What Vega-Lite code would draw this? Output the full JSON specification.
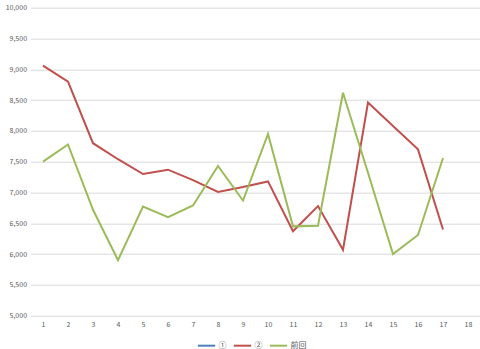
{
  "$schema": "https://vega.github.io/schema/vega-lite/v6.json",
  "width": 450,
  "height": 308,
  "autosize": {"type": "none"},
  "padding": {"left": 30.5, "top": 7.7, "right": 0, "bottom": 33},
  "background": "white",
  "config": {
    "view": {"stroke": null},
    "font": "Noto Sans CJK JP",
    "axis": {"labelFont": "Noto Sans CJK JP", "labelColor": "#595959", "labelFontSize": 7, "domain": false, "ticks": false, "title": null}
  },
  "data": {
    "values": [
      {"x": 1, "s": "②", "v": 9060}, {"x": 2, "s": "②", "v": 8800}, {"x": 3, "s": "②", "v": 7800},
      {"x": 4, "s": "②", "v": 7540}, {"x": 5, "s": "②", "v": 7300}, {"x": 6, "s": "②", "v": 7370},
      {"x": 7, "s": "②", "v": 7200}, {"x": 8, "s": "②", "v": 7010}, {"x": 9, "s": "②", "v": 7090},
      {"x": 10, "s": "②", "v": 7180}, {"x": 11, "s": "②", "v": 6370}, {"x": 12, "s": "②", "v": 6780},
      {"x": 13, "s": "②", "v": 6070}, {"x": 14, "s": "②", "v": 8460}, {"x": 15, "s": "②", "v": 8080},
      {"x": 16, "s": "②", "v": 7700}, {"x": 17, "s": "②", "v": 6400},
      {"x": 1, "s": "前回", "v": 7500}, {"x": 2, "s": "前回", "v": 7780}, {"x": 3, "s": "前回", "v": 6720},
      {"x": 4, "s": "前回", "v": 5900}, {"x": 5, "s": "前回", "v": 6770}, {"x": 6, "s": "前回", "v": 6600},
      {"x": 7, "s": "前回", "v": 6790}, {"x": 8, "s": "前回", "v": 7430}, {"x": 9, "s": "前回", "v": 6870},
      {"x": 10, "s": "前回", "v": 7950}, {"x": 11, "s": "前回", "v": 6450}, {"x": 12, "s": "前回", "v": 6460},
      {"x": 13, "s": "前回", "v": 8620}, {"x": 14, "s": "前回", "v": 7320}, {"x": 15, "s": "前回", "v": 6000},
      {"x": 16, "s": "前回", "v": 6310}, {"x": 17, "s": "前回", "v": 7560}
    ]
  },
  "mark": {"type": "line", "strokeWidth": 2},
  "encoding": {
    "x": {
      "field": "x", "type": "ordinal",
      "scale": {"domain": [1,2,3,4,5,6,7,8,9,10,11,12,13,14,15,16,17,18], "padding": 0.5},
      "axis": {"labelAngle": 0, "grid": false, "labelPadding": 5}
    },
    "y": {
      "field": "v", "type": "quantitative",
      "scale": {"domain": [5000, 10000], "nice": false, "zero": false},
      "axis": {"values": [5000,5500,6000,6500,7000,7500,8000,8500,9000,9500,10000], "format": ",.0f", "grid": true, "gridColor": "#d9d9d9", "gridWidth": 1, "labelPadding": 4}
    },
    "color": {
      "field": "s", "type": "nominal",
      "scale": {"domain": ["①", "②", "前回"], "range": ["#4F81BD", "#C0504D", "#9BBB59"]},
      "legend": {
        "title": null, "orient": "none", "direction": "horizontal",
        "legendX": 166, "legendY": 328,
        "symbolType": "stroke", "symbolStrokeWidth": 2, "symbolSize": 300,
        "labelFontSize": 8, "labelColor": "#595959", "columnPadding": 3, "labelOffset": 2
      }
    }
  }
}
